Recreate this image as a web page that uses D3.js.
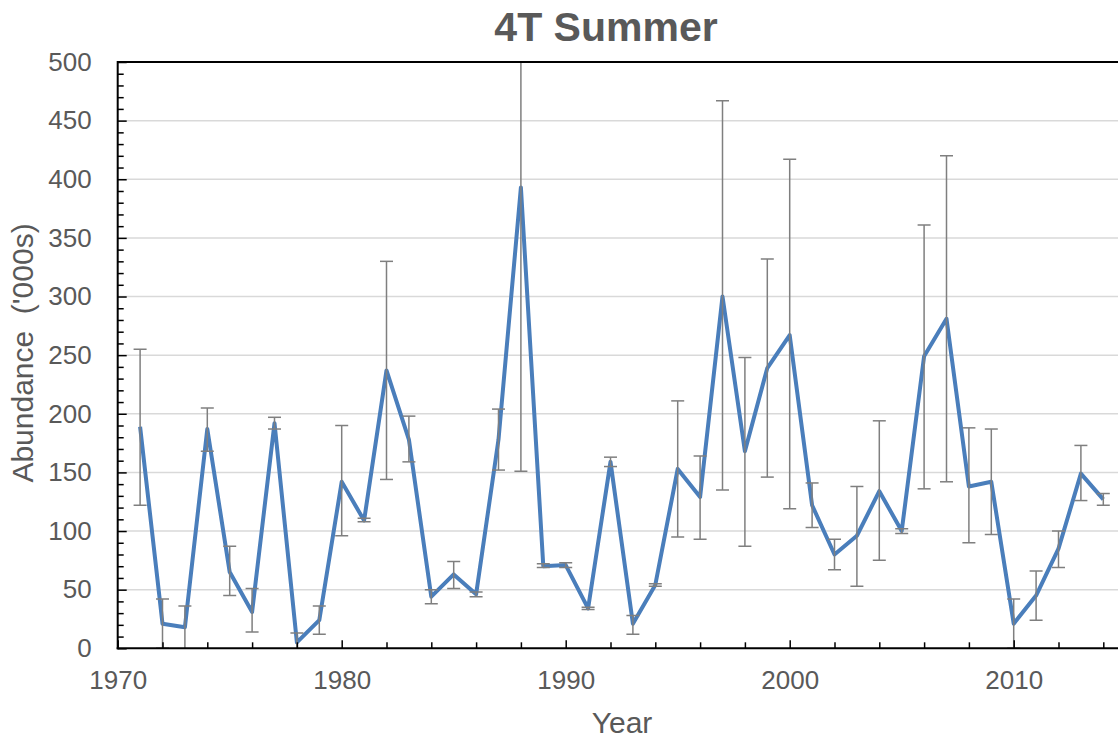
<!DOCTYPE html>
<html>
<head>
<meta charset="utf-8">
<script src="https://cdn.jsdelivr.net/npm/d3@7"></script>
<style>
  html, body { margin: 0; padding: 0; background: #ffffff; }
  svg { display: block; font-family: "Liberation Sans", Arial, sans-serif; }
</style>
</head>
<body>
<svg id="chart" width="1118" height="738"></svg>
<script>
// Survey years
const years = [1971, 1972, 1973, 1974, 1975, 1976, 1977, 1978, 1979, 1980,
               1981, 1982, 1983, 1984, 1985, 1986, 1987, 1988, 1989, 1990,
               1991, 1992, 1993, 1994, 1995, 1996, 1997, 1998, 1999, 2000,
               2001, 2002, 2003, 2004, 2005, 2006, 2007, 2008, 2009, 2010,
               2011, 2012, 2013, 2014];

// Estimated abundance ('000s)
const abundance = [189, 21, 18, 187, 65, 31, 192, 5, 24, 142,
                   109, 237, 178, 44, 63, 46, 178, 393, 70, 71,
                   34, 159, 21, 54, 153, 129, 300, 168, 239, 267,
                   122, 80, 96, 134, 100, 249, 281, 138, 142, 21,
                   45, 85, 149, 127];

// Lower and upper confidence limits
const lowerLimit = [122, 0, -1, 168, 45, 14, 187, -3, 12, 96,
                    108, 144, 159, 38, 51, 44, 152, 151, 69, 69,
                    33, 155, 12, 53, 95, 93, 135, 87, 146, 119,
                    103, 67, 53, 75, 98, 136, 142, 90, 97, 0,
                    24, 69, 126, 122];
const upperLimit = [255, 42, 36, 205, 87, 51, 197, 13, 36, 190,
                    111, 330, 198, 50, 74, 48, 204, 635, 72, 73,
                    35, 163, 28, 55, 211, 164, 467, 248, 332, 417,
                    141, 93, 138, 194, 102, 361, 420, 188, 187, 42,
                    66, 100, 173, 132];

const yTicks = [0, 50, 100, 150, 200, 250, 300, 350, 400, 450, 500];
const xLabelTicks = [1970, 1980, 1990, 2000, 2010];

const chartTitle = "4T Summer";
const xTitle = "Year";
const yTitle = "Abundance  ('000s)";

const data = years.map((yr, i) => ({
  year: yr, value: abundance[i], lo: lowerLimit[i], hi: upperLimit[i]
}));

const svg = d3.select("#chart");
const textColor = "#595959";

const plotLeft = 117.7, plotTop = 62, plotBottom = 648.3;
const pxPerYear = 22.4;
const x = d3.scaleLinear().domain([1970, 2015]).range([plotLeft, plotLeft + 45 * pxPerYear]);
const y = d3.scaleLinear().domain([0, 500]).range([plotBottom, plotTop]);
const plotRight = x(2015);

svg.append("defs").append("clipPath").attr("id", "plotClip")
  .append("rect")
  .attr("x", plotLeft).attr("y", plotTop)
  .attr("width", plotRight - plotLeft).attr("height", plotBottom - plotTop);

// Horizontal gridlines
svg.append("g")
  .selectAll("line")
  .data(yTicks.filter(d => d > 0 && d < 500))
  .join("line")
  .attr("x1", plotLeft).attr("x2", plotRight)
  .attr("y1", d => y(d)).attr("y2", d => y(d))
  .attr("stroke", "#d9d9d9")
  .attr("stroke-width", 1.5);

const plot = svg.append("g").attr("clip-path", "url(#plotClip)");

// Abundance line
plot.append("path")
  .datum(data)
  .attr("fill", "none")
  .attr("stroke", "#4a7ebb")
  .attr("stroke-width", 4)
  .attr("stroke-linejoin", "round")
  .attr("d", d3.line().x(d => x(d.year)).y(d => y(d.value)));

// Error bars
const capHalf = 6.5;
const eb = plot.append("g")
  .attr("stroke", "#7f7f7f")
  .attr("stroke-width", 1.5)
  .selectAll("g")
  .data(data)
  .join("g");
eb.append("line")
  .attr("x1", d => x(d.year)).attr("x2", d => x(d.year))
  .attr("y1", d => y(d.lo)).attr("y2", d => y(d.hi));
eb.append("line")
  .attr("x1", d => x(d.year) - capHalf).attr("x2", d => x(d.year) + capHalf)
  .attr("y1", d => y(d.hi)).attr("y2", d => y(d.hi));
eb.append("line")
  .attr("x1", d => x(d.year) - capHalf).attr("x2", d => x(d.year) + capHalf)
  .attr("y1", d => y(d.lo)).attr("y2", d => y(d.lo));

// Top border
svg.append("line")
  .attr("x1", plotLeft).attr("x2", plotRight)
  .attr("y1", plotTop).attr("y2", plotTop)
  .attr("stroke", "#000").attr("stroke-width", 2);

// Y axis: major ticks every 50, minor every 10, pointing inward
const yAxis = svg.append("g").attr("transform", `translate(${plotLeft},0)`);
yAxis.append("g")
  .call(d3.axisRight(y).tickValues(d3.range(0, 501, 10).filter(v => v % 50 !== 0))
        .tickSize(6).tickFormat(""))
  .call(g => g.select(".domain").remove())
  .call(g => g.selectAll("line").attr("stroke", "#000").attr("stroke-width", 1.5));
yAxis.append("g")
  .call(d3.axisRight(y).tickValues(yTicks).tickSize(9).tickFormat(""))
  .call(g => g.select(".domain").remove())
  .call(g => g.selectAll("line").attr("stroke", "#000").attr("stroke-width", 1.5));
yAxis.append("g")
  .call(d3.axisLeft(y).tickValues(yTicks).tickSize(0).tickPadding(26))
  .call(g => g.select(".domain").remove())
  .call(g => g.selectAll("text")
    .attr("fill", textColor)
    .style("font-size", "26px")
    .style("font-family", "'Liberation Sans', Arial, sans-serif"));
yAxis.append("line")
  .attr("x1", 0).attr("x2", 0).attr("y1", plotTop - 1).attr("y2", plotBottom + 1)
  .attr("stroke", "#000").attr("stroke-width", 2);

// X axis: ticks every 2 years, longer at labelled decades
const xAxis = svg.append("g").attr("transform", `translate(0,${plotBottom})`);
xAxis.append("g")
  .call(d3.axisTop(x).tickValues(d3.range(1972, 2015, 2).filter(v => v % 10 !== 0))
        .tickSize(6).tickFormat(""))
  .call(g => g.select(".domain").remove())
  .call(g => g.selectAll("line").attr("stroke", "#000").attr("stroke-width", 1.5));
xAxis.append("g")
  .call(d3.axisTop(x).tickValues(xLabelTicks).tickSize(8).tickFormat(""))
  .call(g => g.select(".domain").remove())
  .call(g => g.selectAll("line").attr("stroke", "#000").attr("stroke-width", 1.5));
xAxis.append("g")
  .call(d3.axisBottom(x).tickValues(xLabelTicks).tickSize(0).tickPadding(22)
        .tickFormat(d3.format("d")))
  .call(g => g.select(".domain").remove())
  .call(g => g.selectAll("text")
    .attr("fill", textColor)
    .style("font-size", "26px")
    .style("font-family", "'Liberation Sans', Arial, sans-serif"));
xAxis.append("line")
  .attr("x1", plotLeft - 1).attr("x2", plotRight).attr("y1", 0).attr("y2", 0)
  .attr("stroke", "#000").attr("stroke-width", 2);

// Titles
svg.append("text")
  .attr("x", 606).attr("y", 41)
  .attr("text-anchor", "middle")
  .attr("fill", textColor)
  .style("font-size", "41px")
  .style("font-weight", "bold")
  .text(chartTitle);

svg.append("text")
  .attr("x", 622).attr("y", 733)
  .attr("text-anchor", "middle")
  .attr("fill", textColor)
  .style("font-size", "30px")
  .text(xTitle);

svg.append("text")
  .attr("transform", "translate(33,353) rotate(-90)")
  .attr("text-anchor", "middle")
  .attr("fill", textColor)
  .style("font-size", "30px")
  .style("white-space", "pre")
  .attr("xml:space", "preserve")
  .text(yTitle);
</script>
</body>
</html>
